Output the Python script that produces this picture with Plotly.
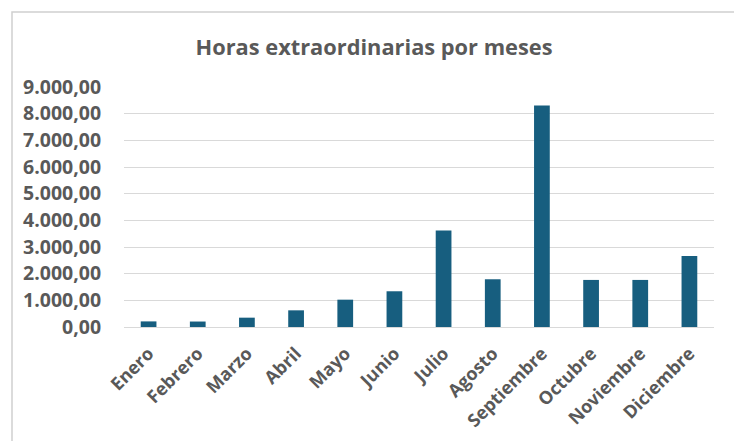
import plotly.graph_objects as go

months = ["Enero", "Febrero", "Marzo", "Abril", "Mayo", "Junio", "Julio",
          "Agosto", "Septiembre", "Octubre", "Noviembre", "Diciembre"]
horas = [210, 205, 350, 625, 1025, 1340, 3615, 1790, 8310, 1765, 1765, 2665]
y_ticks = [0, 1000, 2000, 3000, 4000, 5000, 6000, 7000, 8000, 9000]

# page has an 8px body margin, so figure coords = page coords - 8
OFF = 8
W, H = 742, 441
ML, MR, MT, MB = 124 - OFF, 28 + OFF, 87 - OFF, 114 + OFF
pw, ph = W - ML - MR, H - MT - MB

def px2x(p):
    return (p - OFF - ML) / pw

def py2y(p):
    return (H - MB - (p - OFF)) / ph

fig = go.Figure(go.Bar(
    x=months, y=horas, marker=dict(color="#175E7F", line=dict(width=0)),
    width=0.32,
))

grey = "#595959"
fig.update_layout(
    width=W, height=H, autosize=False,
    margin=dict(l=ML, r=MR, t=MT, b=MB, autoexpand=False),
    paper_bgcolor="white", plot_bgcolor="white",
    separators=",.",
    title=dict(text="Horas extraordinarias por meses",
               x=(374 - OFF) / W, xanchor="center", xref="paper" if False else "container",
               y=1 - (47 - OFF) / H, yanchor="middle",
               font=dict(family="Open Sans", size=21.8, color=grey, weight="bold")),
    font=dict(family="Open Sans", color=grey),
    showlegend=False,
    xaxis=dict(tickangle=-45, tickfont=dict(size=18, color=grey, weight="bold"),
               showgrid=False, showline=False, ticks="outside", ticklen=8,
               tickcolor="rgba(0,0,0,0)", automargin=False),
    yaxis=dict(range=[0, 9000], tickvals=y_ticks, tickformat=",.2f",
               tickfont=dict(size=19.5, color=grey, weight="bold"),
               showgrid=True, gridcolor="#D9D9D9", gridwidth=1,
               zeroline=True, zerolinecolor="#D9D9D9", zerolinewidth=1,
               showline=False, ticks="outside", ticklen=18,
               tickcolor="rgba(0,0,0,0)", automargin=False),
    shapes=[
        dict(type="rect", xref="paper", yref="paper", layer="below",
             x0=px2x(735), x1=px2x(742), y0=py2y(12), y1=py2y(460),
             fillcolor="#BDBDBD", line=dict(width=0)),
        dict(type="rect", xref="paper", yref="paper", layer="below",
             x0=px2x(12), x1=px2x(735), y0=py2y(460), y1=py2y(12),
             fillcolor="white", line=dict(color="#D0D0D0", width=1.5)),
    ],
)

fig.write_html("out.html")
